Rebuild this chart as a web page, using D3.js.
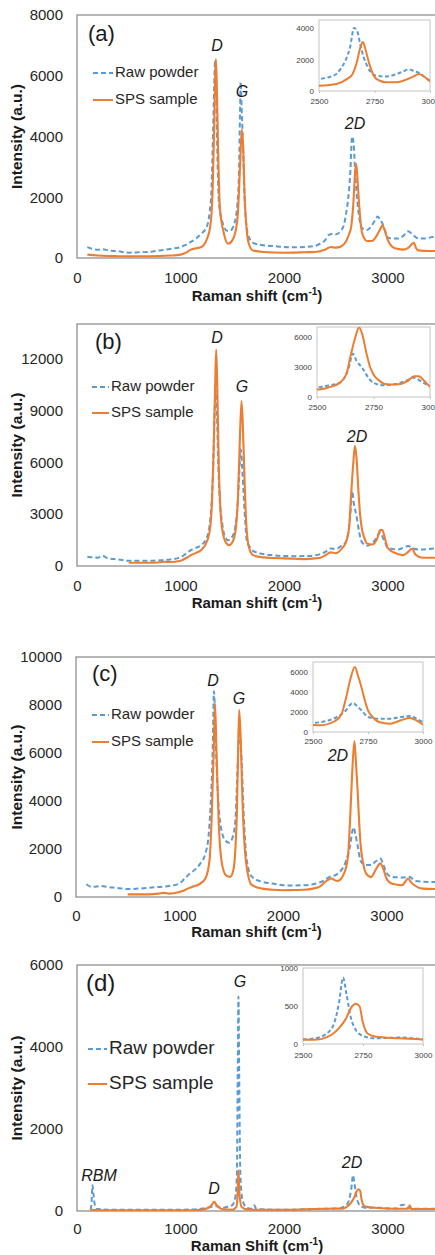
<!DOCTYPE html>
<html><head><meta charset="utf-8">
<script src="https://cdn.jsdelivr.net/npm/d3@7"></script>
<style>body{margin:0;background:#fff}svg{display:block;font-family:"Liberation Sans",Arial,sans-serif}</style>
</head><body><svg id="c" width="435" height="1255"></svg>
<script>
// ---------------- DATA ----------------
const xTicks = [0, 1000, 2000, 3000];
const insetXTicks = [2500, 2750, 3000];
const seriesNames = ["Raw powder", "SPS sample"];
const panelNames = ["(a)", "(b)", "(c)", "(d)"];
const xTitleWords = ["Raman shift", "Raman shift", "Raman shift", "Raman Shift"];
const yTitle = "Intensity (a.u.)";

const yTicksA = [0, 2000, 4000, 6000, 8000];
const yTicksB = [0, 3000, 6000, 9000, 12000];
const yTicksC = [0, 2000, 4000, 6000, 8000, 10000];
const yTicksD = [0, 2000, 4000, 6000];
const yMaxes = [8000, 14000, 10000, 6000];
const insetYTicksA = [0, 2000, 4000];
const insetYTicksB = [0, 3000, 6000];
const insetYTicksC = [0, 2000, 4000, 6000];
const insetYTicksD = [0, 500, 1000];
const insetYMaxes = [4500, 7000, 7000, 1000];

const rawA = [[100,360],[150,300],[200,275],[250,290],[300,250],[400,220],[500,175],[600,190],[700,200],[800,250],[900,300],[1000,360],[1050,430],[1100,530],[1150,640],[1200,800],[1250,1000],[1280,1460],[1300,2340],[1315,4200],[1328,6000],[1335,6520],[1342,6000],[1352,4100],[1370,1900],[1400,1240],[1450,900],[1480,900],[1520,1130],[1550,1800],[1565,2800],[1575,4800],[1582,5800],[1590,5000],[1600,4100],[1620,1900],[1650,800],[1700,500],[1800,420],[1900,390],[2000,360],[2100,350],[2200,360],[2300,400],[2350,470],[2400,600],[2430,750],[2480,800],[2500,780],[2550,900],[2580,1100],[2600,1460],[2620,1950],[2640,2780],[2658,4000],[2672,3800],[2685,3000],[2700,2200],[2720,1500],[2750,1000],[2800,920],[2850,1080],[2880,1250],[2905,1370],[2930,1250],[2950,1150],[2975,900],[3000,680],[3050,640],[3100,640],[3150,720],[3200,880],[3250,750],[3300,640],[3350,640],[3400,670],[3450,700],[3500,750]];
const spsA = [[100,110],[200,80],[300,65],[400,60],[500,55],[600,60],[700,60],[800,65],[900,80],[1000,110],[1050,170],[1100,275],[1150,320],[1200,360],[1250,580],[1290,1100],[1310,2200],[1325,4200],[1335,6000],[1342,6540],[1350,5800],[1362,3800],[1380,1680],[1420,800],[1460,470],[1500,580],[1530,850],[1555,1500],[1575,3000],[1592,4230],[1605,3700],[1620,2000],[1640,900],[1660,470],[1700,250],[1800,200],[2000,175],[2200,190],[2300,200],[2400,280],[2450,360],[2500,340],[2550,380],[2600,550],[2630,800],[2650,1050],[2670,1800],[2685,2700],[2697,3100],[2710,2600],[2725,1800],[2750,900],[2775,650],[2800,560],[2850,560],[2900,760],[2930,950],[2950,1080],[2970,950],[3000,620],[3050,360],[3100,300],[3150,275],[3200,330],[3240,470],[3257,500],[3275,330],[3300,250],[3400,230],[3500,230]];

const rawB = [[100,540],[150,500],[200,480],[250,575],[300,440],[400,380],[500,300],[600,300],[700,300],[800,330],[900,380],[1000,500],[1050,700],[1100,920],[1150,1050],[1200,1200],[1250,1590],[1280,2300],[1300,3600],[1315,5500],[1330,8970],[1342,10150],[1352,8800],[1362,6500],[1380,3790],[1400,2600],[1420,1880],[1460,1490],[1500,1690],[1530,2300],[1550,3400],[1567,5300],[1582,6760],[1595,5800],[1610,4180],[1625,2600],[1640,1490],[1670,1100],[1700,880],[1800,690],[1900,620],[2000,575],[2100,570],[2200,575],[2300,620],[2350,690],[2400,820],[2450,1015],[2500,970],[2550,1150],[2600,1410],[2620,1880],[2640,2900],[2659,4330],[2675,3600],[2700,2920],[2725,2000],[2750,1410],[2800,1170],[2850,1310],[2900,1680],[2925,1950],[2940,1850],[2960,1580],[2980,1300],[3000,1070],[3050,990],[3100,960],[3150,1050],[3200,1150],[3250,1015],[3300,960],[3350,960],[3400,990],[3500,1050]];
const spsB = [[500,190],[600,190],[700,190],[800,220],[850,250],[900,230],[1000,300],[1050,450],[1100,630],[1150,760],[1200,920],[1260,1490],[1290,2400],[1305,3800],[1320,6670],[1335,10500],[1345,12510],[1355,10500],[1370,5710],[1385,3400],[1400,2260],[1440,1340],[1470,1210],[1510,1490],[1535,2200],[1555,3900],[1575,7620],[1590,9540],[1605,7620],[1620,4800],[1635,2500],[1660,1110],[1700,630],[1800,500],[1900,460],[2000,440],[2100,420],[2200,400],[2300,440],[2350,480],[2400,620],[2450,790],[2500,740],[2550,950],[2600,1410],[2630,2300],[2650,4260],[2670,6000],[2686,6950],[2700,6300],[2720,4260],[2735,3000],[2750,2250],[2775,1650],[2800,1310],[2850,1240],[2900,1580],[2930,2080],[2950,2080],[2975,1600],[3000,1070],[3050,820],[3100,700],[3150,630],[3200,820],[3240,1015],[3265,700],[3300,540],[3350,480],[3500,480]];

const rawC = [[100,530],[150,420],[200,440],[250,460],[300,420],[400,380],[500,330],[600,350],[700,380],[800,420],[900,460],[1000,560],[1050,770],[1100,975],[1150,1140],[1200,1390],[1250,1810],[1280,2510],[1300,3760],[1320,5990],[1333,8570],[1348,6690],[1370,4320],[1400,2920],[1440,2370],[1480,2260],[1510,2440],[1540,3200],[1560,5290],[1578,6960],[1600,5710],[1620,3480],[1650,1530],[1700,840],[1800,630],[1900,560],[2000,490],[2100,480],[2200,490],[2300,540],[2350,600],[2400,700],[2450,840],[2500,900],[2550,1050],[2600,1400],[2630,1800],[2650,2170],[2670,2750],[2682,2900],[2700,2600],[2720,2170],[2750,1500],[2800,1330],[2850,1330],[2900,1500],[2940,1600],[2970,1350],[3000,1000],[3050,840],[3100,820],[3150,810],[3220,840],[3250,760],[3280,670],[3400,630],[3500,630]];
const spsC = [[500,110],[600,110],[700,110],[800,140],[850,170],[900,140],[1000,210],[1050,280],[1080,350],[1120,420],[1200,560],[1250,770],[1290,1530],[1310,3200],[1330,5990],[1343,8080],[1358,5990],[1378,3200],[1410,1390],[1450,900],[1490,840],[1520,1110],[1540,2000],[1555,3600],[1566,6000],[1577,7800],[1592,6500],[1607,4200],[1628,2200],[1660,975],[1700,490],[1800,350],[1900,300],[2000,280],[2100,290],[2200,300],[2300,360],[2350,420],[2430,700],[2470,770],[2500,700],[2530,670],[2600,1100],[2630,1800],[2650,3400],[2670,5300],[2690,6500],[2705,5600],[2720,4500],[2735,3200],[2750,2170],[2775,1400],[2800,1000],[2850,830],[2900,1170],[2940,1400],[2970,1170],[3000,770],[3050,560],[3150,490],[3210,770],[3240,600],[3270,490],[3350,350],[3500,330]];

const rawD = [[130,30],[140,180],[150,630],[160,400],[170,180],[190,55],[300,30],[500,30],[700,30],[1000,30],[1200,55],[1300,100],[1330,120],[1400,80],[1500,140],[1530,340],[1545,910],[1553,3360],[1560,5230],[1567,3360],[1578,910],[1600,260],[1640,80],[1680,55],[1712,140],[1730,60],[1780,40],[2000,30],[2200,40],[2400,55],[2500,60],[2550,75],[2600,140],[2630,275],[2650,540],[2667,875],[2680,675],[2700,340],[2720,185],[2750,105],[2800,75],[2900,85],[3000,60],[3100,60],[3130,140],[3160,150],[3200,80],[3250,55],[3500,55]];
const spsD = [[130,30],[300,15],[500,15],[1000,15],[1200,30],[1270,80],[1305,160],[1325,225],[1350,140],[1400,50],[1500,30],[1540,100],[1552,420],[1560,990],[1570,420],[1590,100],[1640,40],[1700,30],[2000,30],[2200,40],[2400,55],[2500,60],[2550,55],[2600,90],[2650,210],[2680,340],[2700,475],[2720,530],[2735,500],[2750,275],[2770,135],[2800,100],[2900,75],[3000,60],[3100,55],[3200,55],[3215,140],[3230,50],[3500,50]];

// peak annotations: [text, x value, y value]
const peaksA = [["D",1353,6946],["G",1594,5449],["2D",2686,4379]];
const peaksB = [["D",1353,13132],["G",1594,10298],["2D",2705,7405]];
const peaksC = [["D",1324,8958],["G",1575,8208],["2D",2531,5833]];
const peaksD = [["G",1575,5561],["D",1324,512],["2D",2657,1146],["RBM",213,829]];

// ---------------- LAYOUT ----------------
const layout = [
  {left:77, top:15,  bottom:258,  xPad:14, titleDy:39, labX:88, labDy:20, labFs:22, legX:93, legLen:20, legDy:[58,85], legFs:15,
   inset:{l:319,r:430,t:20,b:91,lblDy:11}},
  {left:77, top:324, bottom:566,  xPad:14, titleDy:38, labX:95, labDy:19, labFs:22, legX:92, legLen:17, legDy:[63,89], legFs:15,
   inset:{l:317,r:430,t:327,b:397,lblDy:11}},
  {left:76, top:657, bottom:897,  xPad:13, titleDy:36, labX:92, labDy:18, labFs:22, legX:92, legLen:17, legDy:[58,85], legFs:15,
   inset:{l:313,r:423,t:662,b:732,lblDy:10}},
  {left:77, top:965, bottom:1211, xPad:12, titleDy:36, labX:86, labDy:20, labFs:24, legX:88, legLen:19, legDy:[84,119], legFs:19,
   inset:{l:303,r:423,t:968,b:1044,lblDy:12}}
];
const BLUE = "#5B9BD5", ORANGE = "#ED7D31";
const pxPer = 0.1035;
const fmt = d3.format("d");

const svg = d3.select("#c");
const panels = [
  [rawA, spsA, yTicksA, insetYTicksA, peaksA],
  [rawB, spsB, yTicksB, insetYTicksB, peaksB],
  [rawC, spsC, yTicksC, insetYTicksC, peaksC],
  [rawD, spsD, yTicksD, insetYTicksD, peaksD]
];

panels.forEach(([raw, sps, yT, iyT, peaks], i) => {
  const L = layout[i];
  const g = svg.append("g");
  const x = d3.scaleLinear().domain([0, 3500]).range([L.left, L.left + 3500 * pxPer]);
  const y = d3.scaleLinear().domain([0, yMaxes[i]]).range([L.bottom, L.top]);
  const cid = "clip" + i;
  svg.append("clipPath").attr("id", cid).append("rect")
    .attr("x", L.left).attr("y", L.top).attr("width", 500).attr("height", L.bottom - L.top);

  // frame
  g.append("rect").attr("x", L.left).attr("y", L.top).attr("width", 500).attr("height", L.bottom - L.top)
    .attr("fill", "none").attr("stroke", "#8f8f8f").attr("stroke-width", 1.3);

  // axes
  const xa = g.append("g").attr("transform", `translate(0,${L.bottom})`)
    .call(d3.axisBottom(x).tickValues(xTicks).tickSize(0).tickPadding(L.xPad).tickFormat(fmt));
  const ya = g.append("g").attr("transform", `translate(${L.left},0)`)
    .call(d3.axisLeft(y).tickValues(yT).tickSize(0).tickPadding(14).tickFormat(fmt));
  [xa, ya].forEach(a => {
    a.select(".domain").remove();
    a.attr("font-family", null).attr("font-size", null);
    a.selectAll("text").attr("font-size", 15).attr("fill", "#262626");
  });

  // titles
  const xt = g.append("text").attr("x", (L.left + 435) / 2 + 1).attr("y", L.bottom + L.titleDy)
    .attr("text-anchor", "middle").attr("dominant-baseline", "middle")
    .attr("font-size", 15).attr("font-weight", "bold").attr("fill", "#1a1a1a");
  xt.append("tspan").text(xTitleWords[i] + " (cm");
  xt.append("tspan").attr("font-size", 10).attr("dy", -5).text("-1");
  xt.append("tspan").attr("dy", 5).text(")");
  g.append("text").attr("transform", `translate(18,${(L.top + L.bottom) / 2}) rotate(-90)`)
    .attr("text-anchor", "middle").attr("dominant-baseline", "middle")
    .attr("font-size", 15.5).attr("font-weight", "bold").attr("fill", "#1a1a1a").text(yTitle);

  // lines
  const line = d3.line().x(d => x(d[0])).y(d => y(d[1])).curve(d3.curveMonotoneX);
  const lg = g.append("g").attr("clip-path", `url(#${cid})`);
  lg.append("path").datum(raw).attr("d", line).attr("fill", "none").attr("stroke", BLUE)
    .attr("stroke-width", 2).attr("stroke-dasharray", "5,3");
  lg.append("path").datum(sps).attr("d", line).attr("fill", "none").attr("stroke", ORANGE)
    .attr("stroke-width", 2.1);

  // panel label
  g.append("text").attr("x", L.labX).attr("y", L.top + L.labDy).attr("dominant-baseline", "middle")
    .attr("font-size", L.labFs).attr("fill", "#1a1a1a").text(panelNames[i]);

  // legend
  seriesNames.forEach((nm, k) => {
    const yy = L.top + L.legDy[k];
    g.append("line").attr("x1", L.legX).attr("x2", L.legX + L.legLen).attr("y1", yy).attr("y2", yy)
      .attr("stroke", k ? ORANGE : BLUE).attr("stroke-width", 2)
      .attr("stroke-dasharray", k ? null : "5,3");
    g.append("text").attr("x", L.legX + L.legLen + 2).attr("y", yy).attr("dominant-baseline", "middle")
      .attr("font-size", L.legFs).attr("fill", "#262626").text(nm);
  });

  // peak labels
  peaks.forEach(p => {
    g.append("text").attr("x", x(p[1])).attr("y", y(p[2])).attr("text-anchor", "middle")
      .attr("dominant-baseline", "middle").attr("font-style", "italic").attr("font-size", 16)
      .attr("fill", "#1a1a1a").text(p[0]);
  });

  // inset
  const I = L.inset;
  const ix = d3.scaleLinear().domain([2500, 3000]).range([I.l, I.r]);
  const iy = d3.scaleLinear().domain([0, insetYMaxes[i]]).range([I.b, I.t]);
  const icid = "iclip" + i;
  svg.append("clipPath").attr("id", icid).append("rect")
    .attr("x", I.l).attr("y", I.t).attr("width", I.r - I.l).attr("height", I.b - I.t);
  g.append("rect").attr("x", I.l).attr("y", I.t).attr("width", I.r - I.l).attr("height", I.b - I.t)
    .attr("fill", "#fff").attr("stroke", "#c4c4c4").attr("stroke-width", 1);
  const ixa = g.append("g").attr("transform", `translate(0,${I.b})`)
    .call(d3.axisBottom(ix).tickValues(insetXTicks).tickSize(2).tickPadding(I.lblDy - 6).tickFormat(fmt));
  const iya = g.append("g").attr("transform", `translate(${I.l},0)`)
    .call(d3.axisLeft(iy).tickValues(iyT).tickSize(0).tickPadding(5).tickFormat(fmt));
  [ixa, iya].forEach(a => {
    a.select(".domain").remove();
    a.attr("font-family", null).attr("font-size", null);
    a.selectAll("text").attr("font-size", 8).attr("fill", "#404040");
    a.selectAll("line").attr("stroke", "#c4c4c4");
  });
  const iline = d3.line().x(d => ix(d[0])).y(d => iy(d[1])).curve(d3.curveMonotoneX);
  const ilg = g.append("g").attr("clip-path", `url(#${icid})`);
  const inR = d => d[0] >= 2450 && d[0] <= 3050;
  ilg.append("path").datum(raw.filter(inR)).attr("d", iline).attr("fill", "none").attr("stroke", BLUE)
    .attr("stroke-width", 2).attr("stroke-dasharray", "4,2.5");
  ilg.append("path").datum(sps.filter(inR)).attr("d", iline).attr("fill", "none").attr("stroke", ORANGE)
    .attr("stroke-width", 2);
});
</script></body></html>
